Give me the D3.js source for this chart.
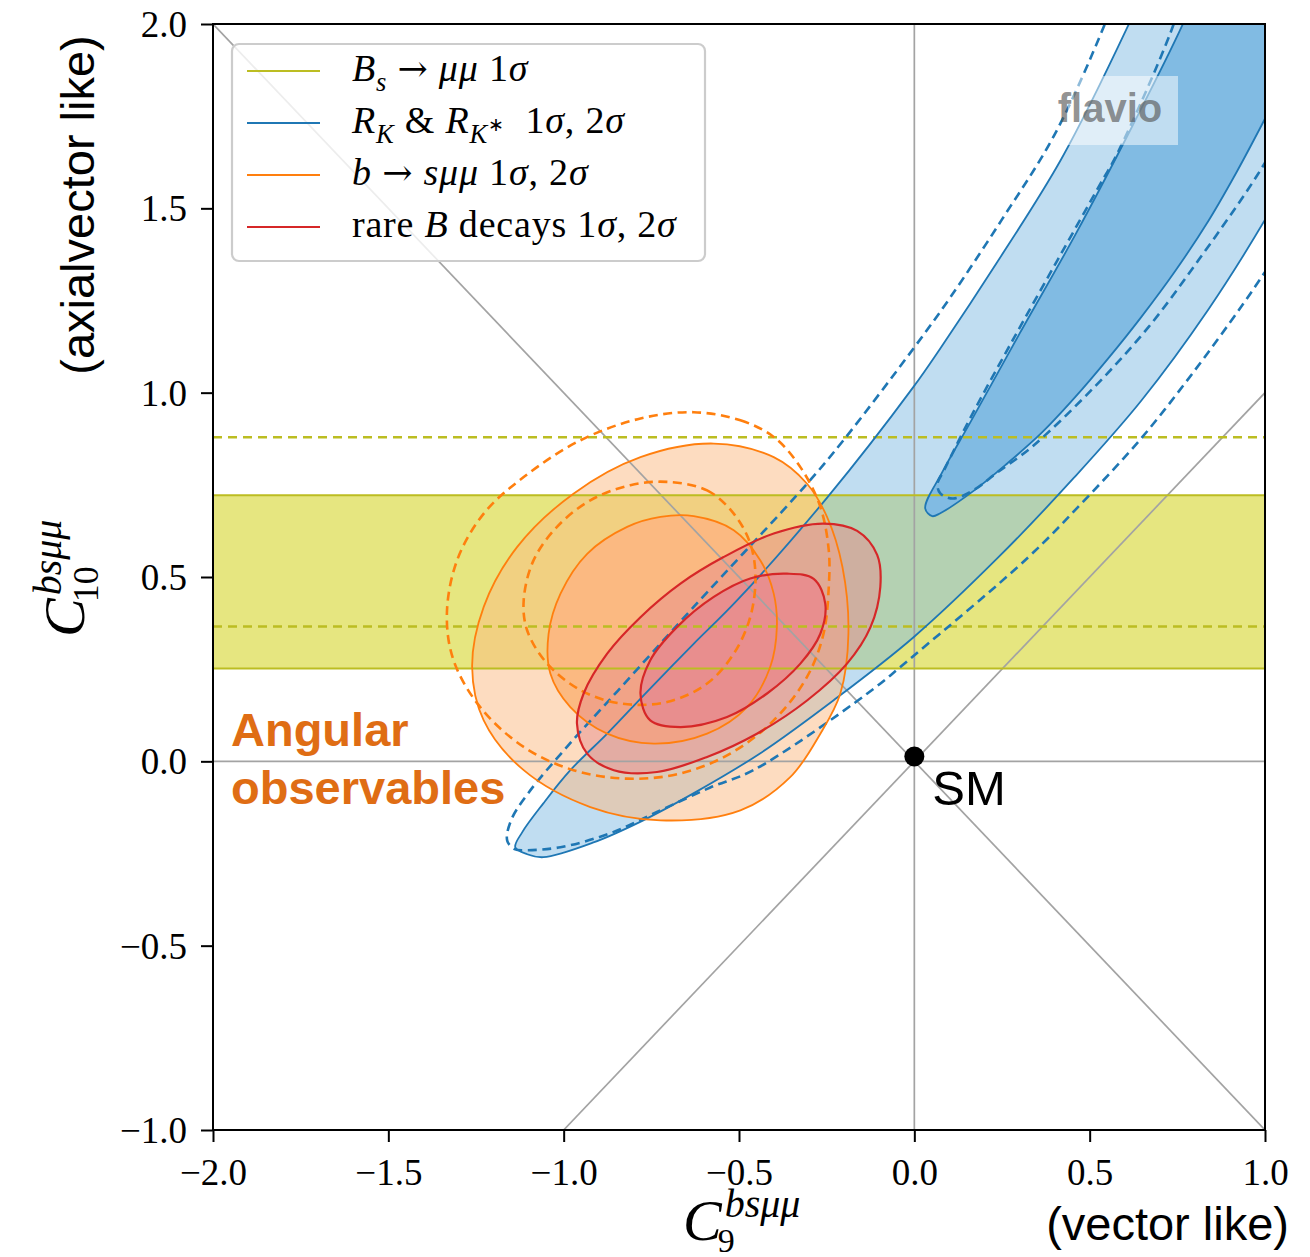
<!DOCTYPE html>
<html><head><meta charset="utf-8">
<script src="https://cdn.jsdelivr.net/npm/d3@7/dist/d3.min.js"></script>
<style>body{margin:0;background:#fff}</style>
</head><body>
<svg id="chart" width="1310" height="1257" xmlns="http://www.w3.org/2000/svg"></svg>
<script>
// ---------------- data ----------------
const xDomain = [-2, 1];
const yDomain = [-1, 2];
const xTicks = [-2.0, -1.5, -1.0, -0.5, 0.0, 0.5, 1.0];
const yTicks = [-1.0, -0.5, 0.0, 0.5, 1.0, 1.5, 2.0];

// B_s -> mu mu 1 sigma band (C10 range) and dashed variant
const bsmmBand = [0.252, 0.7215];
const bsmmDashed = [0.366, 0.879];

// R_K & R_K* contours (solid = current, dashed = variant)
const rk2sigma = [[0.680,2.146],[0.610,1.996],[0.420,1.635],[0.237,1.355],[0.074,1.120],[-0.003,1.015],[-0.248,0.716],[-0.505,0.437],[-0.630,0.318],[-0.761,0.190],[-0.875,0.076],[-0.981,-0.024],[-1.058,-0.114],[-1.118,-0.192],[-1.138,-0.233],[-1.104,-0.252],[-1.058,-0.260],[-0.915,-0.220],[-0.773,-0.160],[-0.630,-0.087],[-0.439,0.022],[-0.231,0.165],[-0.003,0.336],[0.237,0.551],[0.456,0.770],[0.647,0.978],[0.838,1.225],[1.007,1.480],[1.10,1.64]];
const rk1sigma = [[0.830,2.146],[0.764,1.996],[0.620,1.720],[0.460,1.430],[0.300,1.160],[0.160,0.920],[0.080,0.785],[0.031,0.686],[0.051,0.665],[0.074,0.673],[0.171,0.735],[0.265,0.808],[0.362,0.890],[0.456,0.985],[0.553,1.093],[0.647,1.205],[0.744,1.330],[0.838,1.465],[0.920,1.600],[1.001,1.745],[1.10,1.93]];
const rk2sigmaDashed = [[0.600,2.146],[0.539,1.990],[0.400,1.700],[0.250,1.470],[0.100,1.255],[0.000,1.123],[-0.202,0.871],[-0.305,0.754],[-0.630,0.418],[-0.847,0.190],[-0.990,0.040],[-1.100,-0.085],[-1.150,-0.160],[-1.161,-0.215],[-1.140,-0.238],[-1.104,-0.241],[-1.009,-0.233],[-0.867,-0.195],[-0.724,-0.133],[-0.582,-0.071],[-0.459,-0.024],[-0.134,0.184],[0.000,0.288],[0.322,0.551],[0.485,0.708],[0.647,0.876],[0.793,1.052],[0.935,1.237],[1.007,1.337],[1.129,1.508]];
const rk1sigmaDashed = [[0.790,2.150],[0.730,1.975],[0.579,1.649],[0.528,1.562],[0.408,1.359],[0.285,1.150],[0.171,0.952],[0.123,0.863],[0.085,0.790],[0.066,0.752],[0.074,0.727],[0.110,0.713],[0.168,0.735],[0.237,0.784],[0.334,0.852],[0.510,1.012],[0.667,1.177],[0.810,1.359],[0.950,1.549],[1.001,1.625],[1.10,1.78]];

// b -> s mu mu (angular observables) contours
const bsmumu2sigma = [[-0.572,0.862],[-0.401,0.825],[-0.306,0.753],[-0.249,0.663],[-0.205,0.527],[-0.188,0.346],[-0.211,0.184],[-0.268,0.075],[-0.354,-0.043],[-0.496,-0.133],[-0.724,-0.160],[-0.924,-0.124],[-1.114,-0.024],[-1.228,0.111],[-1.261,0.256],[-1.228,0.419],[-1.133,0.581],[-0.972,0.726],[-0.781,0.825]];
const bsmumu1sigma = [[-0.629,0.665],[-0.515,0.627],[-0.439,0.545],[-0.401,0.455],[-0.392,0.364],[-0.411,0.256],[-0.477,0.147],[-0.591,0.075],[-0.743,0.048],[-0.876,0.075],[-0.981,0.147],[-1.038,0.238],[-1.043,0.346],[-1.009,0.455],[-0.933,0.563],[-0.819,0.636],[-0.724,0.663]];
const bsmumu2sigmaDashed = [[-0.629,0.947],[-0.496,0.925],[-0.401,0.880],[-0.325,0.798],[-0.268,0.690],[-0.244,0.572],[-0.244,0.473],[-0.259,0.346],[-0.306,0.229],[-0.401,0.111],[-0.525,0.021],[-0.667,-0.033],[-0.819,-0.047],[-0.972,-0.024],[-1.114,0.039],[-1.238,0.147],[-1.314,0.274],[-1.333,0.401],[-1.304,0.545],[-1.228,0.672],[-1.114,0.771],[-0.952,0.871],[-0.781,0.930]];
const bsmumu1sigmaDashed = [[-0.705,0.758],[-0.591,0.735],[-0.515,0.672],[-0.468,0.591],[-0.453,0.500],[-0.468,0.391],[-0.515,0.292],[-0.591,0.211],[-0.705,0.161],[-0.838,0.157],[-0.952,0.193],[-1.047,0.265],[-1.104,0.355],[-1.114,0.437],[-1.086,0.545],[-1.019,0.636],[-0.924,0.708],[-0.810,0.749]];

// rare B decays combined contours
const rare2sigma = [[-0.259,0.645],[-0.163,0.625],[-0.106,0.560],[-0.097,0.473],[-0.125,0.364],[-0.192,0.265],[-0.306,0.165],[-0.449,0.075],[-0.591,0.012],[-0.734,-0.029],[-0.857,-0.024],[-0.933,0.021],[-0.962,0.102],[-0.943,0.184],[-0.876,0.292],[-0.781,0.391],[-0.667,0.482],[-0.544,0.554],[-0.401,0.618]];
const rare1sigma = [[-0.363,0.509],[-0.287,0.495],[-0.254,0.428],[-0.268,0.346],[-0.325,0.265],[-0.420,0.184],[-0.534,0.120],[-0.667,0.093],[-0.753,0.111],[-0.781,0.184],[-0.753,0.274],[-0.677,0.364],[-0.572,0.446],[-0.468,0.496]];

// guide lines and SM point
const guideLines = [[[-2,2],[1,-1]], [[-1,-1],[1,1]], [[0,-1],[0,2]], [[-2,0],[1,0]]];
const smPoint = [0, 0.013];

const legendColors = ['#bcbd22', '#1f77b4', '#ff7f0e', '#d62728'];
const legendLabels = [
  [{t:'B',i:1},{t:'s',i:1,sub:1},{t:' '},{t:'→',arrow:1},{t:' '},{t:'μμ',i:1},{t:' 1'},{t:'σ',i:1}],
  [{t:'R',i:1},{t:'K',i:1,sub:1},{t:' & '},{t:'R',i:1},{t:'K',i:1,sub:1},{t:'∗',ss:1},{t:'  1'},{t:'σ',i:1},{t:', 2'},{t:'σ',i:1}],
  [{t:'b',i:1},{t:' '},{t:'→',arrow:1},{t:' '},{t:'sμμ',i:1},{t:' 1'},{t:'σ',i:1},{t:', 2'},{t:'σ',i:1}],
  [{t:'rare '},{t:'B',i:1},{t:' decays 1'},{t:'σ',i:1},{t:', 2'},{t:'σ',i:1}]
];

// ---------------- drawing ----------------
const svg = d3.select('#chart');
const L = 213, R = 1265, T = 24, B = 1130;
const x = d3.scaleLinear().domain(xDomain).range([L, R]);
const y = d3.scaleLinear().domain(yDomain).range([B, T]);
const SERIF = "'Liberation Serif','Times New Roman',serif";
const SANS = "'Liberation Sans',Arial,Helvetica,sans-serif";

svg.append('defs').append('clipPath').attr('id','plotclip')
  .append('rect').attr('x',L).attr('y',T).attr('width',R-L).attr('height',B-T);
const plot = svg.append('g').attr('clip-path','url(#plotclip)');

const openLine = d3.line().x(d=>x(d[0])).y(d=>y(d[1])).curve(d3.curveCatmullRom.alpha(0.5));
const closedLine = d3.line().x(d=>x(d[0])).y(d=>y(d[1])).curve(d3.curveCatmullRomClosed.alpha(0.5));
// open band contours leaving the plot at the top-right: close the fill far outside
const openFill = pts => openLine(pts) + `L${x(1.6)},${y(2.6)}Z`;

const blueFill = '#81bbe3', orangeFill = '#fbb981', redFill = '#e88e8e', yellowFill = '#e6e680';

// yellow band
plot.append('rect').attr('x',L).attr('width',R-L)
  .attr('y',y(bsmmBand[1])).attr('height',y(bsmmBand[0])-y(bsmmBand[1]))
  .attr('fill',yellowFill);

// fills
plot.append('path').attr('d',openFill(rk2sigma)).attr('fill',blueFill).attr('fill-opacity',0.5);
plot.append('path').attr('d',openFill(rk1sigma)).attr('fill',blueFill);
plot.append('path').attr('d',closedLine(bsmumu2sigma)).attr('fill',orangeFill).attr('fill-opacity',0.5);
plot.append('path').attr('d',closedLine(bsmumu1sigma)).attr('fill',orangeFill);
plot.append('path').attr('d',closedLine(rare2sigma)).attr('fill',redFill).attr('fill-opacity',0.5);
plot.append('path').attr('d',closedLine(rare1sigma)).attr('fill',redFill);

// gray guide lines
guideLines.forEach(g => plot.append('line')
  .attr('x1',x(g[0][0])).attr('y1',y(g[0][1])).attr('x2',x(g[1][0])).attr('y2',y(g[1][1]))
  .attr('stroke','#a3a3a3').attr('stroke-width',1.7));

// yellow band edges + dashed
bsmmBand.forEach(v => plot.append('line').attr('x1',L).attr('x2',R).attr('y1',y(v)).attr('y2',y(v))
  .attr('stroke','#bcbd22').attr('stroke-width',2));
bsmmDashed.forEach(v => plot.append('line').attr('x1',L).attr('x2',R).attr('y1',y(v)).attr('y2',y(v))
  .attr('stroke','#bcbd22').attr('stroke-width',2.5).attr('stroke-dasharray','9,6'));

// contour lines
const stroke = (d, col, w, dash) => {
  const p = plot.append('path').attr('d',d).attr('fill','none').attr('stroke',col).attr('stroke-width',w)
    .attr('stroke-linejoin','round');
  if (dash) p.attr('stroke-dasharray',dash);
};
stroke(openLine(rk2sigma), '#1f77b4', 1.8);
stroke(openLine(rk1sigma), '#1f77b4', 1.8);
stroke(openLine(rk2sigmaDashed), '#1f77b4', 2.6, '9,5.5');
stroke(openLine(rk1sigmaDashed), '#1f77b4', 2.6, '9,5.5');
stroke(closedLine(bsmumu2sigma), '#ff7f0e', 1.8);
stroke(closedLine(bsmumu1sigma), '#ff7f0e', 1.8);
stroke(closedLine(bsmumu2sigmaDashed), '#ff7f0e', 2.6, '9,5.5');
stroke(closedLine(bsmumu1sigmaDashed), '#ff7f0e', 2.6, '9,5.5');
stroke(closedLine(rare2sigma), '#d62728', 2.2);
stroke(closedLine(rare1sigma), '#d62728', 2.2);

// SM point
svg.append('circle').attr('cx',x(smPoint[0])).attr('cy',y(smPoint[1])).attr('r',10).attr('fill','#000');
svg.append('text').attr('x',x(smPoint[0])+18).attr('y',y(0)+44)
  .style('font-family',SANS).style('font-size','49px').attr('fill','#000').text('SM');

// Angular observables annotation
const ang = svg.append('g').style('font-family',SANS).style('font-weight','bold').style('font-size','47px').attr('fill','#df6d14');
ang.append('text').attr('x',L+18).attr('y',746).text('Angular');
ang.append('text').attr('x',L+18).attr('y',804).text('observables');

// frame
svg.append('rect').attr('x',L).attr('y',T).attr('width',R-L).attr('height',B-T)
  .attr('fill','none').attr('stroke','#000').attr('stroke-width',2);

// axes
const fmt = d => d3.format('.1f')(d).replace('-', '−');
const xAxis = d3.axisBottom(x).tickValues(xTicks).tickSize(12).tickPadding(8).tickFormat(fmt);
const yAxis = d3.axisLeft(y).tickValues(yTicks).tickSize(12).tickPadding(14).tickFormat(fmt);
const gx = svg.append('g').attr('transform',`translate(0,${B})`).call(xAxis);
const gy = svg.append('g').attr('transform',`translate(${L},0)`).call(yAxis);
[gx, gy].forEach(g => {
  g.select('.domain').remove();
  g.selectAll('.tick line').attr('stroke','#000').attr('stroke-width',2);
  g.selectAll('.tick text').attr('fill','#000').style('font-family',SERIF).style('font-size','37px');
});
gx.selectAll('.tick text').attr('dy','0.95em');
gy.selectAll('.tick text').attr('dy','0.34em');

// math axis labels
function mathLabel(g) {
  const c = g.append('text').attr('x',0).attr('y',0).style('font-family',SERIF).style('font-style','italic')
    .style('font-size','58px').text('C');
  const w = c.node().getComputedTextLength();
  g.append('text').attr('x',w+3).attr('y',-23).style('font-family',SERIF).style('font-style','italic')
    .style('font-size','40px').text('bsμμ');
  return w;
}
const xl = svg.append('g').attr('transform','translate(683,1240)');
const wx = mathLabel(xl);
xl.append('text').attr('x',wx-4).attr('y',12).style('font-family',SERIF).style('font-size','34px').text('9');

const yl = svg.append('g').attr('transform','translate(84,637) rotate(-90)');
const wy = mathLabel(yl);
yl.append('text').attr('x',wy-4).attr('y',14).style('font-family',SERIF).style('font-size','36px').text('10');

svg.append('text').attr('transform','translate(94,205) rotate(-90)').attr('text-anchor','middle')
  .style('font-family',SANS).style('font-size','47px').attr('fill','#000').text('(axialvector like)');
svg.append('text').attr('x',1289).attr('y',1240).attr('text-anchor','end')
  .style('font-family',SANS).style('font-size','47px').attr('fill','#000').text('(vector like)');

// watermark
svg.append('rect').attr('x',1068).attr('y',76).attr('width',110).attr('height',69).attr('fill','#fff').attr('fill-opacity',0.5);
svg.append('text').attr('x',1110).attr('y',122).attr('text-anchor','middle')
  .style('font-family',SANS).style('font-weight','bold').style('font-size','40px')
  .attr('fill','#555').attr('fill-opacity',0.65).text('flavio');

// legend
const lg = svg.append('g');
lg.append('rect').attr('x',232).attr('y',44).attr('width',473).attr('height',217).attr('rx',7)
  .attr('fill','#fff').attr('fill-opacity',0.8).attr('stroke','#cccccc').attr('stroke-width',2.2);
const rowY = [71, 123, 175, 227];
const fs = 38;
legendLabels.forEach((segs, i) => {
  lg.append('line').attr('x1',247).attr('x2',320).attr('y1',rowY[i]).attr('y2',rowY[i])
    .attr('stroke',legendColors[i]).attr('stroke-width',2);
  const t = lg.append('text').attr('x',352).attr('y',rowY[i]+10)
    .style('font-family',SERIF).style('font-size',fs+'px').attr('fill','#000')
    .style('white-space','pre').style('letter-spacing','0.8px');
  let shift = 0;
  segs.forEach(s => {
    let target = 0, size = fs;
    if (s.sub) { target = fs*0.25; size = fs*0.7; }
    if (s.ss) { target = -fs*0.05; size = fs*0.5; }
    const ts = t.append('tspan').attr('dy', target - shift).style('font-size', size+'px')
      .style('font-style', s.i ? 'italic' : 'normal').text(s.t);
    if (s.arrow) ts.style('font-family',"'DejaVu Serif',serif").style('font-size',(fs*0.95)+'px');
    shift = target;
  });
});
</script>
</body></html>
